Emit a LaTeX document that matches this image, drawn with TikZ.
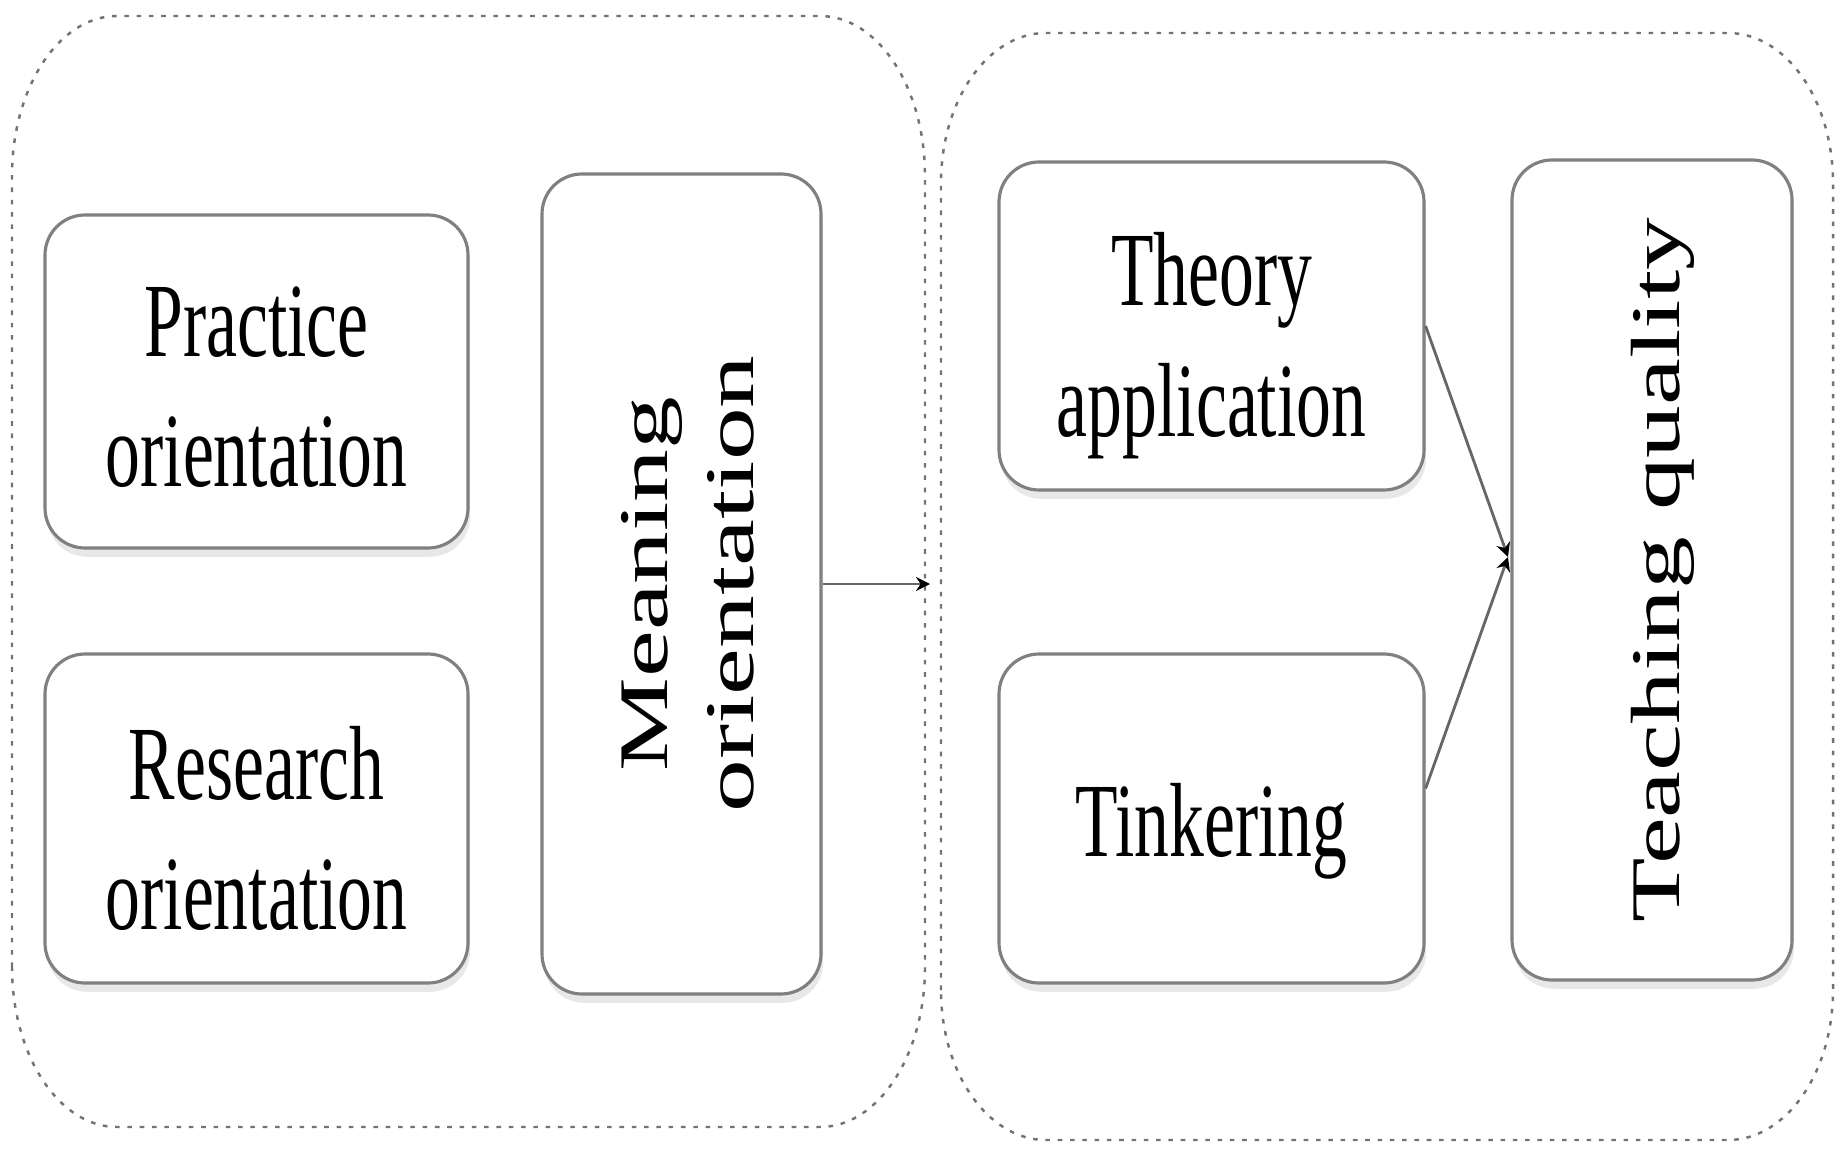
\documentclass[tikz,border=0pt]{standalone}
\usepackage{fontspec}
\setmainfont{Liberation Serif}
\usepackage{graphicx}
\usetikzlibrary{arrows.meta,shadows}

% text in the picture is squeezed sideways
\newcommand{\squeezed}[2][0.22cm]{\raisebox{#1}[0pt][0pt]{\scalebox{0.66}[1]{\begin{tabular}[t]{@{}c@{}}#2\end{tabular}}}}
\newcommand{\sidetext}[2][0.24cm]{\hspace*{#1}\rotatebox{90}{\scalebox{1}[0.66]{\begin{tabular}{@{}c@{}}#2\end{tabular}}}}

\begin{document}
\begin{tikzpicture}[
    box/.style={draw=black!50, line width=0.9pt, rounded corners=0.4cm, fill=white,
        inner sep=0pt, font=\fontsize{30}{37}\selectfont,
        drop shadow={shadow xshift=0.6pt, shadow yshift=-2.5pt, opacity=0.18}},
    frame/.style={draw=black!55, line width=0.7pt, dash pattern=on 1.3pt off 2.2pt},
    link/.style={draw=black!60, line width=0.8pt, -{Stealth[length=4pt,width=4pt,black]}}
]
\useasboundingbox (0,0) rectangle (18.45,11.54);

% Dashed frames
\draw[frame] (0.12,1.87) -- (0.12,9.78) arc[start angle=180, end angle=90, x radius=1.05, y radius=1.6]
    -- (8.20,11.38) arc[start angle=90, end angle=0, x radius=1.05, y radius=1.6]
    -- (9.25,1.87) arc[start angle=0, end angle=-90, x radius=1.05, y radius=1.6]
    -- (1.17,0.27) arc[start angle=270, end angle=180, x radius=1.05, y radius=1.6];
\draw[frame] (9.41,1.64) -- (9.41,9.71) arc[start angle=180, end angle=90, x radius=1.05, y radius=1.5]
    -- (17.28,11.21) arc[start angle=90, end angle=0, x radius=1.05, y radius=1.5]
    -- (18.33,1.64) arc[start angle=0, end angle=-90, x radius=1.05, y radius=1.5]
    -- (10.46,0.14) arc[start angle=270, end angle=180, x radius=1.05, y radius=1.5];
\coordinate (rightframe) at (9.30,5.70);

% Left group
\node[box, minimum width=4.23cm, minimum height=3.33cm] (practice) at (2.565,7.725)
    {\squeezed[0.25cm]{Practice\\orientation}};
\node[box, minimum width=4.23cm, minimum height=3.29cm] (research) at (2.565,3.355)
    {\squeezed[0.19cm]{Research\\orientation}};
\node[box, minimum width=2.79cm, minimum height=8.20cm] (meaning) at (6.815,5.70)
    {\sidetext{Meaning\\orientation}};

% Right group
\node[box, minimum width=4.25cm, minimum height=3.28cm] (theory) at (12.115,8.28)
    {\squeezed[0.20cm]{Theory\\application}};
\node[box, minimum width=4.25cm, minimum height=3.29cm] (tinkering) at (12.115,3.355)
    {\squeezed[-0.38cm]{Tinkering}};
\node[box, minimum width=2.80cm, minimum height=8.20cm] (quality) at (16.52,5.84)
    {\sidetext[0.2cm]{Teaching quality}};
\coordinate (join) at (15.08,5.97);

% Arrows
\draw[link] (meaning.east) -- (rightframe);
\draw[link] (theory.east) -- (join);
\draw[link] ([yshift=0.3cm]tinkering.east) -- (join);

\end{tikzpicture}
\end{document}
